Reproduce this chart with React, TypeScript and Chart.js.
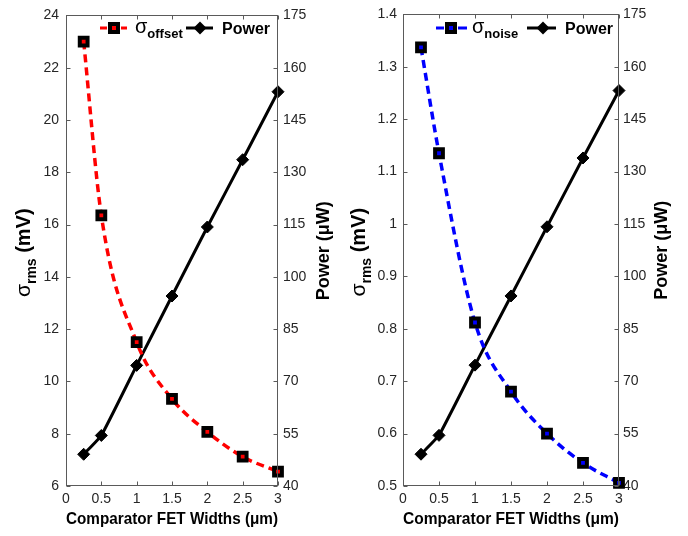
import React, { useEffect, useRef } from 'react';
import { Chart, registerables } from 'chart.js';

Chart.register(...registerables);
Chart.defaults.font.family = "'Liberation Sans', Arial, sans-serif";

// ---- data ----
const widths = [0.25, 0.5, 1, 1.5, 2, 2.5, 3];
const sigmaOffset = [23.0, 16.35, 11.5, 9.33, 8.07, 7.12, 6.55];
const powerLeft = [49.1, 54.5, 74.6, 94.5, 114.3, 133.6, 153.1];
const sigmaNoise = [1.337, 1.135, 0.812, 0.68, 0.6, 0.544, 0.506];
const powerRight = [49.1, 54.5, 74.6, 94.4, 114.2, 133.9, 153.2];

// axis ranges: [min, max, step]
const xAxisRange = [0, 3, 0.5];
const offsetAxisRange = [6, 24, 2];
const noiseAxisRange = [0.5, 1.4, 0.1];
const powerAxisRange = [40, 175, 15];

const xTitle = 'Comparator FET Widths (\u03bcm)';
const powerTitle = 'Power (\u03bcW)';
const FAMILY = "'Liberation Sans', Arial, sans-serif";
const TICK_COLOR = '#262626';

const fmt = (v: number) => String(Number(Number(v).toFixed(2)));

type Layout = {
  leftW: number;
  rightW: number;
  leftPad: number;
  rightPad: number;
  leftTitleX: number;
  rightTitleX: number;
  lg: { l0: number; l1: number; m: number; sx: number; p0: number; p1: number; pm: number; px: number };
};

type PanelProps = {
  sigma: number[];
  power: number[];
  sigmaRange: number[];
  color: string;
  sub: string;
  layout: Layout;
};

function drawRotated(c: CanvasRenderingContext2D, x: number, yc: number, parts: { text: string; font: string; dy: number }[]) {
  c.save();
  c.translate(x, yc);
  c.rotate(-Math.PI / 2);
  const ws: number[] = [];
  let total = 0;
  parts.forEach((p) => {
    c.font = p.font;
    const w = c.measureText(p.text).width;
    ws.push(w);
    total += w;
  });
  let u = -total / 2;
  c.textAlign = 'left';
  c.textBaseline = 'alphabetic';
  c.fillStyle = '#000';
  parts.forEach((p, i) => {
    c.font = p.font;
    c.fillText(p.text, u, p.dy);
    u += ws[i];
  });
  c.restore();
}

function Panel({ sigma, power, sigmaRange, color, sub, layout }: PanelProps) {
  const ref = useRef<HTMLCanvasElement>(null);

  useEffect(() => {
    const canvas = ref.current;
    if (!canvas) return;

    const overlay = {
      id: 'overlay',
      afterDraw(chart: any) {
        const c: CanvasRenderingContext2D = chart.ctx;
        const a = chart.chartArea;
        const sx = chart.scales.x;
        const sy = chart.scales.y;
        const sy2 = chart.scales.y2;
        const L = Math.round(a.left) + 0.5;
        const R = Math.round(a.right) - 0.5;
        const T = Math.round(a.top) + 0.5;
        const B = Math.round(a.bottom) - 0.5;
        c.save();
        c.strokeStyle = '#5a5a5a';
        c.lineWidth = 1;
        c.setLineDash([]);
        c.strokeRect(L, T, R - L, B - T);
        const tl = 4;
        c.beginPath();
        sx.ticks.forEach((t: any) => {
          const px = Math.round(sx.getPixelForValue(t.value)) + 0.5;
          c.moveTo(px, B);
          c.lineTo(px, B - tl);
          c.moveTo(px, T);
          c.lineTo(px, T + tl);
        });
        sy.ticks.forEach((t: any) => {
          const py = Math.round(sy.getPixelForValue(t.value)) + 0.5;
          c.moveTo(L, py);
          c.lineTo(L + tl, py);
        });
        sy2.ticks.forEach((t: any) => {
          const py = Math.round(sy2.getPixelForValue(t.value)) + 0.5;
          c.moveTo(R, py);
          c.lineTo(R - tl, py);
        });
        c.stroke();

        const yc = (a.top + a.bottom) / 2;
        drawRotated(c, layout.leftTitleX, yc + 2, [
          { text: '\u03c3', font: `21px ${FAMILY}`, dy: 0 },
          { text: 'rms', font: `bold 14px ${FAMILY}`, dy: 6 },
          { text: ' (mV)', font: `bold 20px ${FAMILY}`, dy: 0 },
        ]);
        drawRotated(c, layout.rightTitleX, yc, [{ text: powerTitle, font: `bold 18px ${FAMILY}`, dy: 0 }]);

        // legend
        const lg = layout.lg;
        const ly = 28;
        c.lineWidth = 3;
        c.strokeStyle = color;
        c.beginPath();
        c.moveTo(lg.l0, ly);
        c.lineTo(lg.m - 7, ly);
        c.moveTo(lg.m + 7, ly);
        c.lineTo(lg.l1, ly);
        c.stroke();
        c.fillStyle = '#000';
        c.fillRect(lg.m - 6, ly - 6, 12, 12);
        c.fillStyle = color;
        c.fillRect(lg.m - 2, ly - 2, 4, 4);
        c.fillStyle = '#000';
        c.textAlign = 'left';
        c.textBaseline = 'alphabetic';
        c.font = `20px ${FAMILY}`;
        c.fillText('\u03c3', lg.sx, 33);
        const sw = c.measureText('\u03c3').width;
        c.font = `bold 13px ${FAMILY}`;
        c.fillText(sub, lg.sx + sw, 38);

        c.strokeStyle = '#000';
        c.beginPath();
        c.moveTo(lg.p0, ly);
        c.lineTo(lg.p1, ly);
        c.stroke();
        c.beginPath();
        c.moveTo(lg.pm - 6.5, ly);
        c.lineTo(lg.pm, ly - 6.5);
        c.lineTo(lg.pm + 6.5, ly);
        c.lineTo(lg.pm, ly + 6.5);
        c.closePath();
        c.fill();
        c.font = `bold 16px ${FAMILY}`;
        c.fillText('Power', lg.px, 34);
        c.restore();
      },
    };

    const tickFont = { size: 14 };
    const chart = new Chart(canvas, {
      type: 'line',
      data: {
        datasets: [
          {
            label: 'sigma',
            data: widths.map((x, i) => ({ x, y: sigma[i] })),
            yAxisID: 'y',
            borderColor: color,
            backgroundColor: color,
            borderWidth: 3.5,
            borderDash: [8, 5],
            pointStyle: 'rect',
            pointRadius: 5.5,
            pointHoverRadius: 5.5,
            pointBackgroundColor: color,
            pointBorderColor: '#000',
            pointBorderWidth: 4,
            cubicInterpolationMode: 'monotone',
            clip: false,
            fill: false,
          } as any,
          {
            label: 'Power',
            data: widths.map((x, i) => ({ x, y: power[i] })),
            yAxisID: 'y2',
            borderColor: '#000',
            backgroundColor: '#000',
            borderWidth: 3,
            pointStyle: 'rectRot',
            pointRadius: 6,
            pointHoverRadius: 6,
            pointBackgroundColor: '#000',
            pointBorderColor: '#000',
            pointBorderWidth: 1,
            tension: 0.12,
            clip: false,
            fill: false,
          } as any,
        ],
      },
      options: {
        responsive: false,
        maintainAspectRatio: false,
        animation: false,
        events: [],
        layout: { padding: { top: 10, left: 0, right: 0, bottom: 0 } },
        plugins: { legend: { display: false }, tooltip: { enabled: false } },
        scales: {
          x: {
            type: 'linear',
            min: xAxisRange[0],
            max: xAxisRange[1],
            ticks: {
              stepSize: xAxisRange[2],
              padding: 5,
              color: TICK_COLOR,
              font: tickFont,
              maxRotation: 0,
              autoSkip: false,
              callback: (v: any) => fmt(v),
            },
            grid: { display: false, drawTicks: false },
            border: { display: false },
            title: {
              display: true,
              text: xTitle,
              color: '#000',
              font: { size: 17, weight: 'bold' },
              padding: { top: 0, bottom: 6 },
            },
            afterFit: (s: any) => {
              s.height = 50;
            },
          },
          y: {
            type: 'linear',
            position: 'left',
            min: sigmaRange[0],
            max: sigmaRange[1],
            ticks: {
              stepSize: sigmaRange[2],
              padding: layout.leftPad,
              color: TICK_COLOR,
              font: tickFont,
              autoSkip: false,
              callback: (v: any) => fmt(v),
            },
            grid: { display: false, drawTicks: false },
            border: { display: false },
            afterFit: (s: any) => {
              s.width = layout.leftW;
            },
          },
          y2: {
            type: 'linear',
            position: 'right',
            min: powerAxisRange[0],
            max: powerAxisRange[1],
            ticks: {
              stepSize: powerAxisRange[2],
              padding: layout.rightPad,
              color: TICK_COLOR,
              font: tickFont,
              autoSkip: false,
              callback: (v: any) => fmt(v),
            },
            grid: { display: false, drawTicks: false },
            border: { display: false },
            afterFit: (s: any) => {
              s.width = layout.rightW;
            },
          },
        },
      } as any,
      plugins: [overlay],
    });

    return () => chart.destroy();
  }, []);

  return <canvas ref={ref} width={344} height={536} style={{ display: 'block', width: 344, height: 536 }} />;
}

const leftLayout: Layout = {
  leftW: 66,
  rightW: 66,
  leftPad: 7,
  rightPad: 5,
  leftTitleX: 30,
  rightTitleX: 329,
  lg: { l0: 100, l1: 127, m: 114, sx: 135, p0: 186, p1: 213, pm: 200, px: 222 },
};

const rightLayout: Layout = {
  leftW: 59,
  rightW: 69,
  leftPad: 6,
  rightPad: 4,
  leftTitleX: 21,
  rightTitleX: 323,
  lg: { l0: 92, l1: 123, m: 107, sx: 128, p0: 183, p1: 212, pm: 199, px: 221 },
};

export default function App() {
  return (
    <div style={{ position: 'absolute', left: 0, top: 0, width: 688, height: 536, display: 'flex', background: '#fff' }}>
      <Panel sigma={sigmaOffset} power={powerLeft} sigmaRange={offsetAxisRange} color="#ff0000" sub="offset" layout={leftLayout} />
      <Panel sigma={sigmaNoise} power={powerRight} sigmaRange={noiseAxisRange} color="#0000ff" sub="noise" layout={rightLayout} />
    </div>
  );
}
